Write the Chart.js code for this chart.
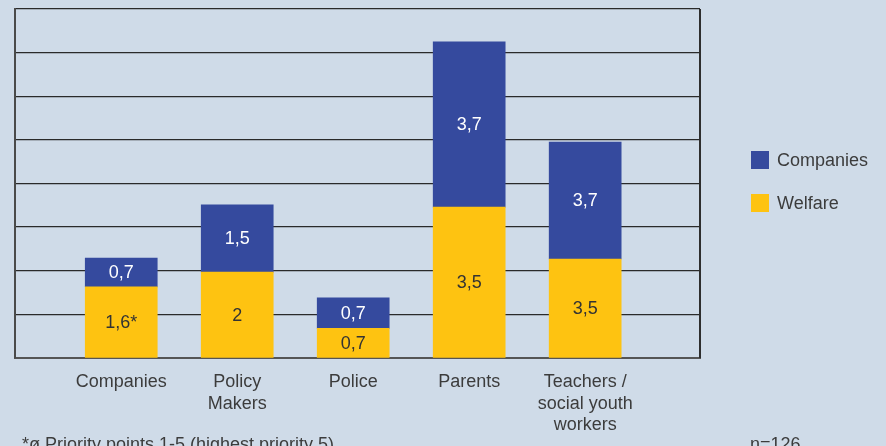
<!DOCTYPE html>
<html>
<head>
<meta charset="utf-8">
<script src="https://cdn.jsdelivr.net/npm/chart.js@4"></script>
<style>
  html, body { margin: 0; padding: 0; background: #cfdbe8; }
  canvas { display: block; }
</style>
</head>
<body>
<canvas id="chart" width="886" height="446"></canvas>
<script>
// Chart data (bar heights, labels as printed)
const categories = [["Companies"], ["Policy", "Makers"], ["Police"], ["Parents"], ["Teachers /", "social youth", "workers"]];
const welfareValues = [1.63, 1.97, 0.68, 3.46, 2.27];
const companiesValues = [0.66, 1.54, 0.70, 3.79, 2.68];
const welfareLabels = ["1,6*", "2", "0,7", "3,5", "3,5"];
const companiesLabels = ["0,7", "1,5", "0,7", "3,7", "3,7"];
const seriesNames = ["Companies", "Welfare"];
const footnote = "*ø Priority points 1-5 (highest priority 5)";
const sampleNote = "n=126";

const BLUE = "#354a9e";
const YELLOW = "#fec311";
const TEXT = "#3c3c3c";
const FONT = "18px 'Liberation Sans', Arial, sans-serif";

// Numbers inside the bars
const barLabels = {
  id: "barLabels",
  afterDatasetsDraw(chart) {
    const ctx = chart.ctx;
    ctx.save();
    ctx.font = FONT;
    ctx.textAlign = "center";
    ctx.textBaseline = "middle";
    chart.data.datasets.forEach((ds, i) => {
      const meta = chart.getDatasetMeta(i);
      meta.data.forEach((bar, j) => {
        const { x, y, base } = bar.getProps(["x", "y", "base"], true);
        ctx.fillStyle = ds.labelColor;
        ctx.fillText(ds.valueLabels[j], x, (y + base) / 2 + 1);
      });
    });
    ctx.restore();
  },
};

// Right frame, legend and notes
const extras = {
  id: "extras",
  afterDraw(chart) {
    const ctx = chart.ctx;
    const area = chart.chartArea;
    ctx.save();
    ctx.strokeStyle = "#2e2e2e";
    ctx.lineWidth = 2;
    ctx.beginPath();
    ctx.moveTo(area.right, area.top);
    ctx.lineTo(area.right, area.bottom);
    ctx.stroke();

    ctx.font = FONT;
    ctx.textBaseline = "middle";
    ctx.textAlign = "left";
    const legendColors = [BLUE, YELLOW];
    seriesNames.forEach((name, i) => {
      const top = 151 + i * 43;
      ctx.fillStyle = legendColors[i];
      ctx.fillRect(751, top, 18, 18);
      ctx.fillStyle = TEXT;
      ctx.fillText(name, 777, top + 10);
    });

    ctx.textBaseline = "alphabetic";
    ctx.fillStyle = TEXT;
    ctx.fillText(footnote, 22, 450);
    ctx.fillText(sampleNote, 750, 450);
    ctx.restore();
  },
};

new Chart(document.getElementById("chart"), {
  type: "bar",
  data: {
    datasets: [
      {
        label: "Welfare",
        data: welfareValues.map((v, i) => ({ x: i, y: v })),
        backgroundColor: YELLOW,
        valueLabels: welfareLabels,
        labelColor: "#333333",
        barThickness: 72,
      },
      {
        label: "Companies",
        data: companiesValues.map((v, i) => ({ x: i, y: v })),
        backgroundColor: BLUE,
        valueLabels: companiesLabels,
        labelColor: "#ffffff",
        barThickness: 72,
      },
    ],
  },
  options: {
    responsive: false,
    animation: false,
    layout: { padding: { left: 15, right: 186, top: 9, bottom: 0 } },
    plugins: {
      legend: { display: false },
      tooltip: { enabled: false },
    },
    scales: {
      x: {
        type: "linear",
        stacked: true,
        offset: false,
        min: -0.916,
        max: 4.99,
        grid: { display: false, drawTicks: false, offset: false },
        border: { color: "#555555", width: 2 },
        afterBuildTicks: (scale) => {
          scale.ticks = categories.map((_, i) => ({ value: i }));
        },
        afterFit: (scale) => {
          scale.height = 88;
        },
        ticks: {
          autoSkip: false,
          maxRotation: 0,
          padding: 14,
          color: TEXT,
          font: { family: "'Liberation Sans', Arial, sans-serif", size: 18, lineHeight: 1.17 },
          callback: (value) => categories[value] || "",
        },
      },
      y: {
        stacked: true,
        min: 0,
        max: 8,
        ticks: { display: false, stepSize: 1 },
        grid: { color: "#2a2a2a", lineWidth: 1.3, drawTicks: false },
        border: { color: "#4a4a4a", width: 2 },
        afterFit: (scale) => {
          scale.width = 0;
        },
      },
    },
  },
  plugins: [barLabels, extras],
});
</script>
</body>
</html>
